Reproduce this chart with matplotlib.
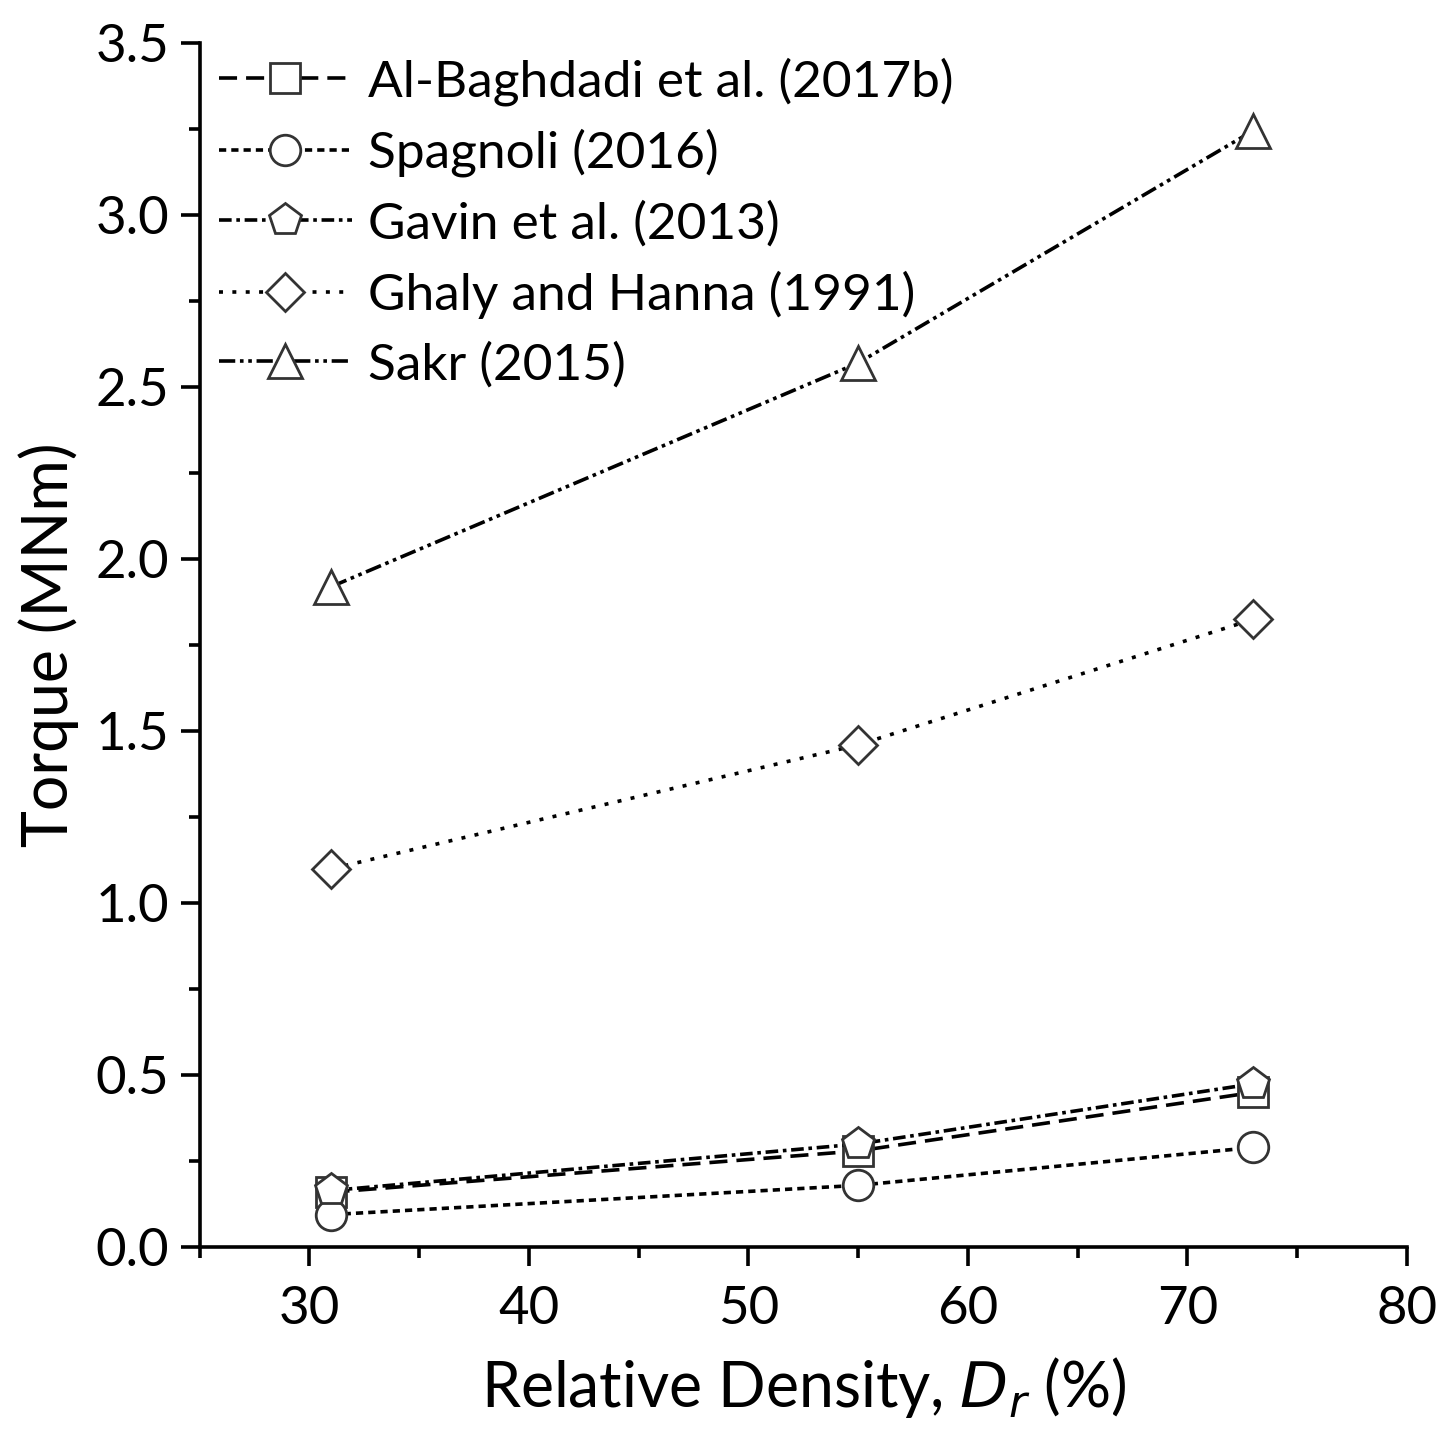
import matplotlib
matplotlib.use("Agg")
import matplotlib.pyplot as plt
from matplotlib.ticker import MultipleLocator, FormatStrFormatter

plt.rcParams['font.family'] = ['Lato', 'DejaVu Sans']

# Relative density (%) and predicted installation torque (MNm)
density = [31, 55, 73]
al_baghdadi = [0.16, 0.28, 0.45]
spagnoli = [0.095, 0.18, 0.29]
gavin = [0.165, 0.30, 0.475]
ghaly_hanna = [1.10, 1.46, 1.825]
sakr = [1.92, 2.57, 3.245]

series = [
    ("Al-Baghdadi et al. (2017b)", al_baghdadi, "s", (0, (5, 2.5))),
    ("Spagnoli (2016)", spagnoli, "o", (0, (2, 1.4))),
    ("Gavin et al. (2013)", gavin, "p", (0, (3.5, 1.3, 1, 1.3))),
    ("Ghaly and Hanna (1991)", ghaly_hanna, "D", (0, (1.1, 2.6))),
    ("Sakr (2015)", sakr, "^", (0, (4.5, 1.3, 1, 1.3, 1, 1.3))),
]
marker_sizes = {"s": 21, "o": 22, "p": 24, "D": 19, "^": 24}

fig = plt.figure(figsize=(14.37, 14.32), dpi=100)
ax = fig.add_axes([0.139, 0.129, 0.840, 0.841])

for label, vals, mk, ls in series:
    ax.plot(density, vals, linestyle=ls, color="black", linewidth=2.6,
            marker=mk, markersize=marker_sizes[mk], markerfacecolor="white",
            markeredgecolor="#333333", markeredgewidth=2.0, label=label)

ax.set_xlim(25, 80)
ax.set_ylim(0, 3.5)
ax.xaxis.set_major_locator(MultipleLocator(10))
ax.xaxis.set_minor_locator(MultipleLocator(5))
ax.yaxis.set_major_locator(MultipleLocator(0.5))
ax.yaxis.set_minor_locator(MultipleLocator(0.25))
ax.yaxis.set_major_formatter(FormatStrFormatter("%.1f"))

for side in ("top", "right"):
    ax.spines[side].set_visible(False)
for side in ("left", "bottom"):
    ax.spines[side].set_linewidth(2.6)

ax.tick_params(which="major", direction="out", length=14, width=2.6,
               labelsize=38)
ax.tick_params(axis="x", which="major", pad=14)
ax.tick_params(axis="y", which="major", pad=8)
ax.tick_params(which="minor", direction="out", length=8, width=2.6)

ax.set_xlabel("Relative Density, $D_r$ (%)", fontsize=45, labelpad=16)
ax.set_ylabel("Torque (MNm)", fontsize=45, labelpad=12)

ax.legend(loc="upper left", frameon=False, fontsize=37, handlelength=2.6,
          handletextpad=0.3, labelspacing=0.45, borderaxespad=0.2,
          bbox_to_anchor=(-0.01, 1.014))

fig.savefig("out.png", dpi=100)
